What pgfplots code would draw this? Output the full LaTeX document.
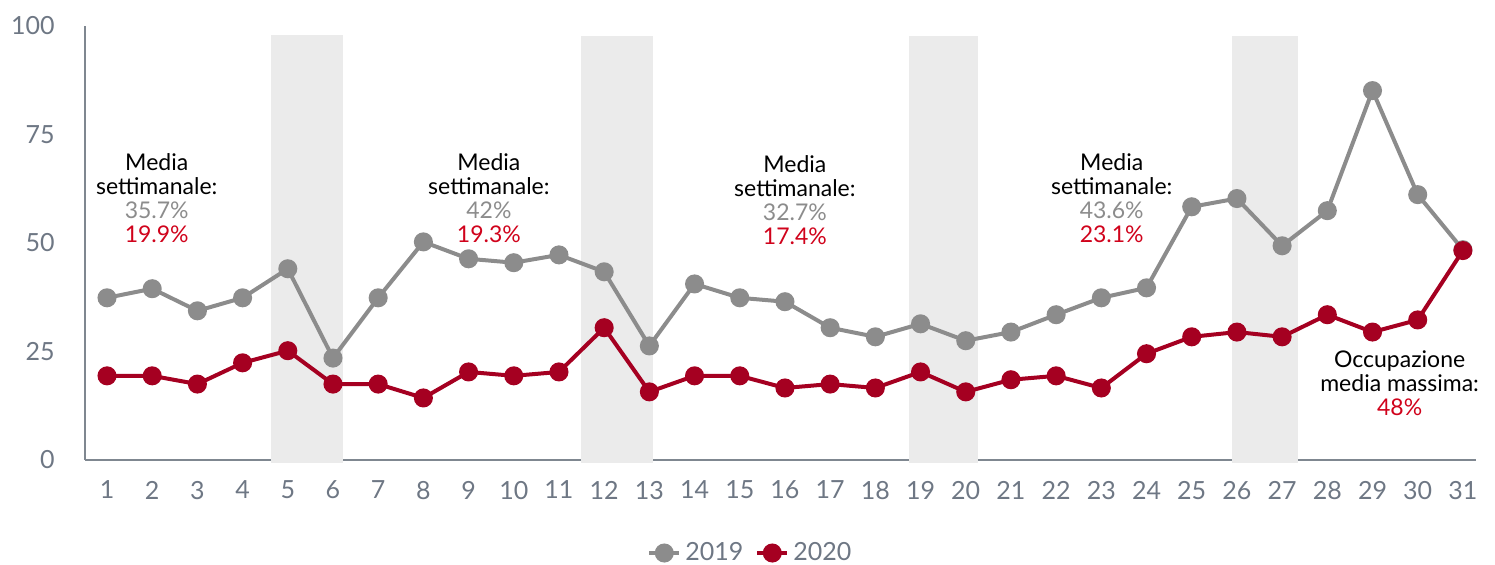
\documentclass[border=0pt]{standalone}
\usepackage{fontspec}
\setmainfont{Lato}
\usepackage{pgfplots}
\pgfplotsset{compat=1.18}
\definecolor{gline}{HTML}{8C8C8C}
\definecolor{rline}{HTML}{A50021}
\definecolor{rtext}{HTML}{D0021B}
\definecolor{bandc}{HTML}{EBEBEB}
\definecolor{axisc}{HTML}{7F8790}
\definecolor{tickc}{HTML}{6E7784}
\begin{document}
\begin{tikzpicture}
\begin{axis}[
  scale only axis, width=695.5pt, height=216.75pt,
  xmin=0.513, xmax=31.29, ymin=0, ymax=100,
  axis lines*=left,
  axis line style={axisc, line width=1pt},
  xtick={1,...,31}, ytick={0,25,50,75,100},
  major tick length=0pt, tick style={draw=none},
  /pgf/number format/assume math mode=true,
  tick label style={font=\fontsize{12.5}{14}\selectfont, text=tickc, inner sep=0pt},
  yticklabel style={anchor=east, xshift=-15pt},
  xticklabel style={anchor=north, yshift=-10.5pt},
  clip=false,
  legend columns=2,
  legend image code/.code={\draw[mark repeat=2, mark phase=2, #1] plot coordinates {(0pt,0pt) (7.5pt,0pt) (15pt,0pt)};},
  legend style={at={(0.479,-0.2157)}, anchor=center, draw=none, fill=none,
    font=\fontsize{12.5}{14}\selectfont, text=tickc,
    /tikz/every even column/.append style={column sep=4pt}},
]
\addplot[draw=none, fill=bandc, forget plot] coordinates {(4.63,-0.8) (4.63,98) (6.22,98) (6.22,-0.8)} -- cycle;
\addplot[draw=none, fill=bandc, forget plot] coordinates {(11.49,-0.8) (11.49,97.6) (13.07,97.6) (13.07,-0.8)} -- cycle;
\addplot[draw=none, fill=bandc, forget plot] coordinates {(18.74,-0.8) (18.74,97.8) (20.27,97.8) (20.27,-0.8)} -- cycle;
\addplot[draw=none, fill=bandc, forget plot] coordinates {(25.88,-0.8) (25.88,97.6) (27.35,97.6) (27.35,-0.8)} -- cycle;

\addplot[gline, line width=2pt, mark=*, mark size=3.75pt, mark options={solid, fill=gline, draw=gline}] coordinates {
(1,37.3) (2,39.4) (3,34.3) (4,37.3) (5,44.0) (6,23.4) (7,37.3) (8,50.2) (9,46.3) (10,45.4)
(11,47.2) (12,43.3) (13,26.2) (14,40.5) (15,37.3) (16,36.4) (17,30.4) (18,28.3) (19,31.3) (20,27.4)
(21,29.4) (22,33.4) (23,37.3) (24,39.6) (25,58.3) (26,60.2) (27,49.3) (28,57.4) (29,85.1) (30,61.1) (31,48.4)};
\addlegendentry{2019}
\addplot[rline, line width=2pt, mark=*, mark size=3.75pt, mark options={solid, fill=rline, draw=rline}] coordinates {
(1,19.3) (2,19.3) (3,17.4) (4,22.3) (5,25.1) (6,17.4) (7,17.4) (8,14.2) (9,20.2) (10,19.3)
(11,20.2) (12,30.4) (13,15.6) (14,19.3) (15,19.3) (16,16.5) (17,17.4) (18,16.5) (19,20.2) (20,15.6)
(21,18.4) (22,19.3) (23,16.5) (24,24.4) (25,28.3) (26,29.4) (27,28.3) (28,33.4) (29,29.4) (30,32.2) (31,48.2)};
\addlegendentry{2020}

\tikzset{ann/.style={align=center, font=\fontsize{11.5}{12}\selectfont, inner sep=0pt}}
\node[ann] at (axis cs:2.1,60.2) {Media\\settimanale:\\\textcolor{gline}{35.7\%}\\\textcolor{rtext}{19.9\%}};
\node[ann] at (axis cs:9.45,60.2) {Media\\settimanale:\\\textcolor{gline}{42\%}\\\textcolor{rtext}{19.3\%}};
\node[ann] at (axis cs:16.22,59.8) {Media\\settimanale:\\\textcolor{gline}{32.7\%}\\\textcolor{rtext}{17.4\%}};
\node[ann] at (axis cs:23.23,60.2) {Media\\settimanale:\\\textcolor{gline}{43.6\%}\\\textcolor{rtext}{23.1\%}};
\node[ann] at (axis cs:29.6,17.7) {Occupazione\\media massima:\\\textcolor{rtext}{48\%}};
\end{axis}
\pgfresetboundingbox
\path[use as bounding box] ([xshift=-42.5pt,yshift=-52.25pt]current axis.south west) rectangle ([xshift=9.5pt,yshift=13pt]current axis.north east);
\end{tikzpicture}
\end{document}
